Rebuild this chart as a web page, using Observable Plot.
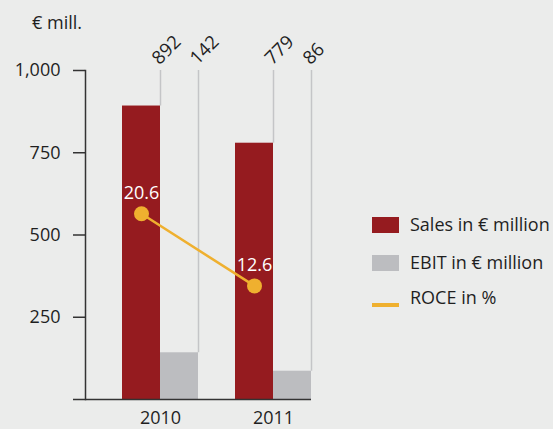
<!DOCTYPE html>
<html><head><meta charset="utf-8">
<script src="https://cdn.jsdelivr.net/npm/d3@7"></script>
<script src="https://cdn.jsdelivr.net/npm/@observablehq/plot@0.6"></script>
<style>
body{margin:0;background:#ebeceb;}
#wrap{position:relative;width:553px;height:429px;background:#ebeceb;font-family:"Open Sans",sans-serif;color:#1f1f1f;overflow:hidden}
#chart{position:absolute;left:0;top:0}
.t{position:absolute;font-size:18px;line-height:18px;white-space:nowrap}
.sw{position:absolute;left:372px;width:27px}
</style></head>
<body>
<div id="wrap">
  <div id="chart"></div>
  <div class="t" style="left:32px;top:13px">€ mill.</div>
  <div class="sw" style="top:217px;height:16px;background:#951b1f"></div>
  <div class="t" style="left:410px;top:215px" id="l0"></div>
  <div class="sw" style="top:255px;height:16px;background:#bcbdc0"></div>
  <div class="t" style="left:410px;top:253px" id="l1"></div>
  <div class="sw" style="top:303px;height:4px;background:#efb02f"></div>
  <div class="t" style="left:410px;top:288px" id="l2"></div>
</div>
<script>
const years = ["2010", "2011"];
const sales = [892, 779];      // € million
const ebit = [142, 86];        // € million
const roce = [20.6, 12.6];     // %
const yTicks = [250, 500, 750, 1000];
const yMax = 1000;
const roceAxisMax = 36.5;      // ROCE % matching the top of the € axis
const seriesNames = ["Sales in € million", "EBIT in € million", "ROCE in %"];

seriesNames.forEach((n, i) => document.getElementById("l" + i).textContent = n);

const rows = years.map((year, i) => ({year, sales: sales[i], ebit: ebit[i], roce: roce[i]}));
const roceY = d => d.roce / roceAxisMax * yMax;
const half = 38;

const chart = Plot.plot({
  width: 553, height: 429,
  marginLeft: 85, marginRight: 242, marginTop: 70, marginBottom: 30,
  style: {background: "transparent", fontFamily: "Open Sans", fontSize: "18px", color: "#1f1f1f"},
  x: {type: "band", domain: years, paddingInner: 0.327, paddingOuter: 0.1635, align: 1, axis: null, label: null},
  y: {domain: [0, yMax], axis: null, label: null},
  marks: [
    Plot.ruleX(rows, {x: "year", y1: "sales", y2: () => yMax, stroke: "#c4c5c7", strokeWidth: 1.5}),
    Plot.ruleX(rows, {x: "year", y1: "ebit", y2: () => yMax, dx: half, stroke: "#c4c5c7", strokeWidth: 1.5}),
    Plot.barY(rows, {x: "year", y: "sales", fill: "#951b1f", insetRight: half}),
    Plot.barY(rows, {x: "year", y: "ebit", fill: "#bcbdc0", insetLeft: half}),
    Plot.axisY({ticks: yTicks, tickSize: 12, tickPadding: 13, tickFormat: d3.format(","), stroke: "#333", strokeWidth: 1.5, fontSize: 18, label: null}),
    Plot.frame({anchor: "left", stroke: "#333", strokeWidth: 1.5}),
    Plot.ruleY([0], {insetLeft: -12, stroke: "#333", strokeWidth: 1.5}),
    Plot.axisX({tickSize: 0, tickPadding: 12, fontSize: 18, label: null}),
    Plot.text(rows, {x: "year", text: d => String(d.sales), frameAnchor: "top", rotate: -45, textAnchor: "start", lineAnchor: "bottom", dx: -1, dy: -5, fontSize: 18.5}),
    Plot.text(rows, {x: "year", text: d => String(d.ebit), frameAnchor: "top", rotate: -45, textAnchor: "start", lineAnchor: "bottom", dx: half - 1, dy: -5, fontSize: 18.5}),
    Plot.line(rows, {x: "year", y: roceY, dx: -half / 2, stroke: "#efb02f", strokeWidth: 2.5}),
    Plot.dot(rows, {x: "year", y: roceY, dx: -half / 2, r: 7.5, fill: "#efb02f"}),
    Plot.text(rows, {x: "year", y: roceY, text: d => d.roce.toFixed(1), dx: -half / 2, dy: -21, fill: "white", fontSize: 18})
  ]
});
document.getElementById("chart").appendChild(chart);
</script>
</body></html>
